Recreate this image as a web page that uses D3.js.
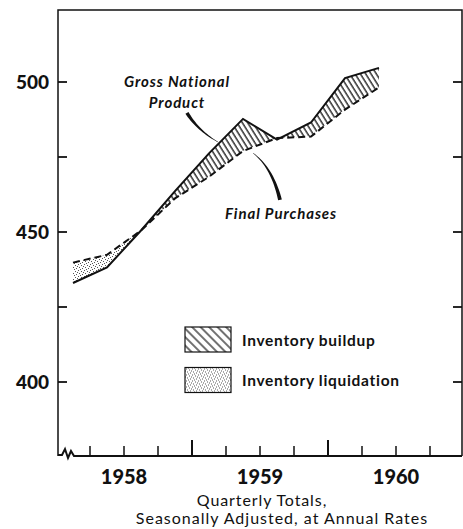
<!DOCTYPE html>
<html>
<head>
<meta charset="utf-8">
<script src="https://cdn.jsdelivr.net/npm/d3@7"></script>
<style>
  body { margin: 0; background: #fff; }
  svg { display: block; }
  text { fill: #111; }
</style>
</head>
<body>
<div id="chart"></div>
<script>
// data (billions of dollars, quarterly, seasonally adjusted annual rates)
var quarters = ['1958 Q1', '1958 Q2', '1958 Q3', '1958 Q4',
                '1959 Q1', '1959 Q2', '1959 Q3', '1959 Q4',
                '1960 Q1', '1960 Q2'];
var gnp = [433, 438.2, 450.5, 463.6, 476.2, 487.7, 480.8, 486.5, 501.3, 504.7];
var finalPurchases = [439.8, 442.4, 450.5, 461.2, 468.4, 477, 481.3, 481.8, 490.8, 498.2];
var yTicks = [400, 425, 450, 475, 500];
var yLabels = [400, 450, 500];
var years = [1958, 1959, 1960];

(function() {
    var W = 463, H = 529;
    var left = 58, right = 462, top = 10, bottom = 456;

    var svg = d3.select('#chart').append('svg')
        .attr('width', W)
        .attr('height', H);

    // scales
    var x = d3.scaleLinear().domain([1958, 1961]).range([56, 464]);
    var y = d3.scaleLinear().domain([400, 500]).range([382, 82]);

    var qx = function(label) {
        var p = label.split(' Q');
        return +p[0] + (+p[1] - 0.5) / 4;
    };

    var data = quarters.map(function(q, i) {
        return { t: qx(q), gnp: gnp[i], fp: finalPurchases[i] };
    });

    // patterns
    var defs = svg.append('defs');
    var hatch = defs.append('pattern')
        .attr('id', 'hatch')
        .attr('patternUnits', 'userSpaceOnUse')
        .attr('width', 4.5).attr('height', 5)
        .attr('patternTransform', 'rotate(-32)');
    hatch.append('line')
        .attr('x1', 1).attr('y1', 0).attr('x2', 1).attr('y2', 5)
        .attr('stroke', '#111').attr('stroke-width', 1.3);

    var legHatch = defs.append('pattern')
        .attr('id', 'hatch-leg')
        .attr('patternUnits', 'userSpaceOnUse')
        .attr('width', 6).attr('height', 6)
        .attr('patternTransform', 'rotate(-45)');
    legHatch.append('line')
        .attr('x1', 1).attr('y1', 0).attr('x2', 1).attr('y2', 6)
        .attr('stroke', '#111').attr('stroke-width', 1.2);

    var dots = defs.append('pattern')
        .attr('id', 'dots')
        .attr('patternUnits', 'userSpaceOnUse')
        .attr('width', 6).attr('height', 6);
    [[0.5, 0.5], [3.5, 1.5], [1.5, 3.5], [4.5, 4.5], [2.5, 5.5], [5.5, 2.5]].forEach(function(d) {
        dots.append('rect')
            .attr('x', d[0] - 0.5).attr('y', d[1] - 0.5)
            .attr('width', 1).attr('height', 1)
            .attr('fill', '#555');
    });

    // difference areas: buildup (gnp above) and liquidation (fp above)
    var clipAbove = defs.append('clipPath').attr('id', 'clip-gnp-above');
    clipAbove.append('path')
        .attr('d', d3.area()
            .x(function(d) { return x(d.t); })
            .y0(0)
            .y1(function(d) { return y(d.fp); })(data));
    var clipBelow = defs.append('clipPath').attr('id', 'clip-gnp-below');
    clipBelow.append('path')
        .attr('d', d3.area()
            .x(function(d) { return x(d.t); })
            .y0(H)
            .y1(function(d) { return y(d.fp); })(data));

    var band = d3.area()
        .x(function(d) { return x(d.t); })
        .y0(function(d) { return y(d.fp); })
        .y1(function(d) { return y(d.gnp); });

    svg.append('path')
        .attr('d', band(data))
        .attr('fill', 'url(#hatch)')
        .attr('clip-path', 'url(#clip-gnp-above)');
    svg.append('path')
        .attr('d', band(data))
        .attr('fill', 'url(#dots)')
        .attr('clip-path', 'url(#clip-gnp-below)');

    // lines
    var line = function(key) {
        return d3.line()
            .x(function(d) { return x(d.t); })
            .y(function(d) { return y(d[key]); });
    };
    svg.append('path')
        .attr('d', line('fp')(data))
        .attr('fill', 'none')
        .attr('stroke', '#111')
        .attr('stroke-width', 2)
        .attr('stroke-dasharray', '7,4');
    svg.append('path')
        .attr('d', line('gnp')(data))
        .attr('fill', 'none')
        .attr('stroke', '#111')
        .attr('stroke-width', 2)
        .attr('stroke-linejoin', 'miter');

    // frame
    var frame = svg.append('g')
        .attr('stroke', '#111')
        .attr('fill', 'none');
    frame.append('path')
        .attr('d', 'M' + left + ',' + bottom + 'V' + top + 'H' + right + 'V' + bottom)
        .attr('stroke-width', 1.5);
    // bottom axis with break
    frame.append('path')
        .attr('d', 'M' + left + ',' + (bottom - 1) + 'L62,' + (bottom - 1) + 'L65,' + (bottom - 7) +
              'L68,' + (bottom + 2) + 'L71,' + (bottom - 5) + 'L74,' + bottom + 'L' + right + ',' + bottom)
        .attr('stroke-width', 2);

    // y ticks, both sides
    yTicks.forEach(function(v) {
        frame.append('line')
            .attr('x1', left).attr('x2', left + 9)
            .attr('y1', y(v)).attr('y2', y(v))
            .attr('stroke-width', 1.8);
        frame.append('line')
            .attr('x1', right - 9).attr('x2', right)
            .attr('y1', y(v)).attr('y2', y(v))
            .attr('stroke-width', 1.8);
    });

    svg.selectAll('.ylab')
        .data(yLabels)
        .enter().append('text')
            .attr('class', 'ylab')
            .attr('x', 49)
            .attr('y', function(d) { return y(d); })
            .attr('dy', '0.36em')
            .attr('text-anchor', 'end')
            .attr('font-family', 'Lato, sans-serif')
            .attr('font-weight', '900')
            .attr('font-size', '19px')
            .text(function(d) { return d; });

    // x ticks at quarter boundaries
    var qTicks = d3.range(1, 12).map(function(i) { return 1958 + i / 4; });
    qTicks.forEach(function(t) {
        var tall = Math.abs(t - Math.round(t)) < 1e-6;
        frame.append('line')
            .attr('x1', x(t)).attr('x2', x(t))
            .attr('y1', bottom).attr('y2', bottom - (tall ? 16 : 10))
            .attr('stroke-width', tall ? 2 : 1.5);
    });

    svg.selectAll('.xlab')
        .data(years)
        .enter().append('text')
            .attr('class', 'xlab')
            .attr('x', function(d) { return x(d + 0.5); })
            .attr('y', 477)
            .attr('dy', '0.36em')
            .attr('text-anchor', 'middle')
            .attr('font-family', 'Lato, sans-serif')
            .attr('font-weight', '900')
            .attr('font-size', '20px')
            .text(function(d) { return d; });

    // subtitle
    svg.append('text')
        .attr('x', 262).attr('y', 500)
        .attr('dy', '0.36em')
        .attr('text-anchor', 'middle')
        .attr('font-family', 'Lato, sans-serif')
        .attr('font-size', '16px')
        .attr('letter-spacing', '0.9px')
        .text('Quarterly Totals,');
    svg.append('text')
        .attr('x', 282).attr('y', 518)
        .attr('dy', '0.36em')
        .attr('text-anchor', 'middle')
        .attr('font-family', 'Lato, sans-serif')
        .attr('font-size', '16px')
        .attr('letter-spacing', '1px')
        .text('Seasonally Adjusted, at Annual Rates');

    // series labels
    var italic = function(txt, t, v) {
        svg.append('text')
            .attr('x', x(t)).attr('y', y(v))
            .attr('dy', '0.36em')
            .attr('text-anchor', 'middle')
            .attr('font-family', 'Lato, sans-serif')
            .attr('font-weight', 'bold')
            .attr('font-style', 'italic')
            .attr('font-size', '15px')
            .attr('letter-spacing', '0.9px')
            .text(txt);
    };
    italic('Gross National', 1958.89, 500);
    italic('Product', 1958.89, 493.3);
    italic('Final Purchases', 1959.655, 456);

    // tapered pointers
    var pointer = function(p0, c, p1, w0, w1) {
        var P0 = [x(p0[0]), y(p0[1])], C = [x(c[0]), y(c[1])], P1 = [x(p1[0]), y(p1[1])];
        var n = 20, sideA = [], sideB = [];
        for (var i = 0; i <= n; i++) {
            var s = i / n;
            var px = (1 - s) * (1 - s) * P0[0] + 2 * (1 - s) * s * C[0] + s * s * P1[0];
            var py = (1 - s) * (1 - s) * P0[1] + 2 * (1 - s) * s * C[1] + s * s * P1[1];
            var tx = 2 * (1 - s) * (C[0] - P0[0]) + 2 * s * (P1[0] - C[0]);
            var ty = 2 * (1 - s) * (C[1] - P0[1]) + 2 * s * (P1[1] - C[1]);
            var len = Math.sqrt(tx * tx + ty * ty);
            var hw = (w0 + (w1 - w0) * s) / 2;
            sideA.push([px - ty / len * hw, py + tx / len * hw]);
            sideB.push([px + ty / len * hw, py - tx / len * hw]);
        }
        svg.append('path')
            .attr('d', d3.line()(sideA.concat(sideB.reverse())) + 'Z')
            .attr('fill', '#111');
    };
    pointer([1958.963, 489.7], [1959.04, 484], [1959.19, 480], 3.6, 0.4);
    pointer([1959.449, 476.3], [1959.59, 471.5], [1959.647, 460.7], 0.4, 3.8);

    // legend
    var legend = [
        { label: 'Inventory buildup', fill: 'url(#hatch-leg)', v: 414 },
        { label: 'Inventory liquidation', fill: 'url(#dots)', v: 400.5 }
    ];
    var lg = svg.selectAll('.leg')
        .data(legend)
        .enter().append('g')
            .attr('class', 'leg')
            .attr('transform', function(d) { return 'translate(0,' + y(d.v) + ')'; });
    lg.append('rect')
        .attr('x', 185).attr('y', -13)
        .attr('width', 46).attr('height', 25)
        .attr('fill', function(d) { return d.fill; })
        .attr('stroke', '#111')
        .attr('stroke-width', 1.2);
    lg.append('text')
        .attr('x', 242)
        .attr('dy', '0.36em')
        .attr('font-family', 'Lato, sans-serif')
        .attr('font-weight', 'bold')
        .attr('font-size', '15.5px')
        .attr('letter-spacing', '0.7px')
        .text(function(d) { return d.label; });
}());
</script>
</body>
</html>
